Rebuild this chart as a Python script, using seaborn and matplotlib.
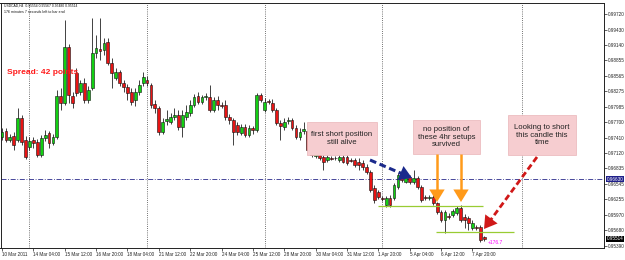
import matplotlib
matplotlib.use("Agg")
import matplotlib.pyplot as plt
from matplotlib.patches import Rectangle
from matplotlib.transforms import blended_transform_factory
import numpy as np
import pandas as pd
import seaborn as sns

# ---------------- data (USDCAD H4) ----------------
opens = [
    0.97420, 0.97532, 0.97364, 0.97439, 0.97364, 0.97775, 0.97364, 0.97233, 0.97364, 0.97327,
    0.97083, 0.97401, 0.97495, 0.97308, 0.97420, 0.98187, 0.98056, 0.99103, 0.98187, 0.98617,
    0.98262, 0.98430, 0.98112, 0.98336, 0.98991, 0.99066, 0.99047, 0.99197, 0.98804, 0.98523,
    0.98636, 0.98430, 0.98355, 0.98262, 0.98112, 0.98262, 0.98430, 0.98486, 0.98392, 0.98037,
    0.97962, 0.97514, 0.97719, 0.97700, 0.97794, 0.97831, 0.97607, 0.97794, 0.97869, 0.98018,
    0.98187, 0.98075, 0.98168, 0.98168, 0.97925, 0.98112, 0.98018, 0.98018, 0.97794, 0.97738,
    0.97644, 0.97495, 0.97607, 0.97457, 0.97588, 0.97551, 0.98205, 0.97925, 0.98093, 0.98056,
    0.97925, 0.97682, 0.97607, 0.97719, 0.97738, 0.97588, 0.97420, 0.97532, 0.97532, 0.97177,
    0.97065, 0.97083, 0.97046, 0.96990, 0.97027, 0.97027, 0.96990, 0.97046, 0.97046, 0.96990,
    0.96990, 0.96953, 0.96934, 0.96859, 0.96766, 0.96466, 0.96392, 0.96279, 0.96148, 0.96279,
    0.96279, 0.96485, 0.96672, 0.96579, 0.96672, 0.96579, 0.96653, 0.96485, 0.96298, 0.96279,
    0.96298, 0.96186, 0.96018, 0.95868, 0.95943, 0.95961, 0.95999, 0.96092, 0.95924, 0.95906,
    0.95718, 0.95737, 0.95737, 0.95554,
]
highs = [
    0.97588, 0.97588, 0.97476, 0.97514, 0.97962, 0.97831, 0.97439, 0.97420, 0.97420, 0.97383,
    0.97457, 0.97551, 0.97532, 0.97476, 0.98299, 0.98336, 0.99608, 0.99159, 0.98262, 0.98710,
    0.98486, 0.98523, 0.98374, 0.99645, 0.99327, 0.99645, 0.99271, 0.99271, 0.98897, 0.98710,
    0.98673, 0.98486, 0.98411, 0.98336, 0.98336, 0.98486, 0.98636, 0.98561, 0.98430, 0.98112,
    0.98000, 0.97775, 0.97925, 0.97869, 0.97962, 0.97925, 0.97925, 0.98018, 0.98112, 0.98224,
    0.98262, 0.98205, 0.98243, 0.98392, 0.98168, 0.98187, 0.98075, 0.98112, 0.97850, 0.97775,
    0.97700, 0.97663, 0.97663, 0.97644, 0.97626, 0.98243, 0.98243, 0.98149, 0.98131, 0.98131,
    0.97962, 0.97738, 0.97775, 0.97794, 0.97775, 0.97644, 0.97588, 0.97700, 0.97588, 0.97233,
    0.97140, 0.97121, 0.97083, 0.97083, 0.97065, 0.97065, 0.97083, 0.97083, 0.97083, 0.97027,
    0.97027, 0.97027, 0.96990, 0.96915, 0.96803, 0.96522, 0.96429, 0.96317, 0.96317, 0.96335,
    0.96560, 0.96747, 0.96728, 0.96709, 0.96709, 0.96803, 0.96691, 0.96522, 0.96335, 0.96335,
    0.96335, 0.96205, 0.96055, 0.96055, 0.95999, 0.96074, 0.96130, 0.96148, 0.95980, 0.95943,
    0.95868, 0.95774, 0.95774, 0.95567,
]
lows = [
    0.97364, 0.97327, 0.97327, 0.97177, 0.97327, 0.97270, 0.97009, 0.97177, 0.97214, 0.97046,
    0.97046, 0.97345, 0.97214, 0.97270, 0.97383, 0.97925, 0.98018, 0.98056, 0.97962, 0.98187,
    0.98205, 0.98056, 0.98056, 0.98299, 0.98897, 0.98860, 0.98953, 0.98766, 0.98336, 0.98486,
    0.98374, 0.98262, 0.98112, 0.98018, 0.98000, 0.98205, 0.98374, 0.98374, 0.97962, 0.97869,
    0.97457, 0.97476, 0.97644, 0.97663, 0.97738, 0.97551, 0.97420, 0.97738, 0.97813, 0.97981,
    0.98037, 0.98037, 0.98112, 0.97888, 0.97888, 0.97925, 0.97962, 0.97738, 0.97663, 0.97270,
    0.97457, 0.97457, 0.97420, 0.97420, 0.97476, 0.97514, 0.98075, 0.97888, 0.98037, 0.97888,
    0.97644, 0.97364, 0.97551, 0.97663, 0.97551, 0.97383, 0.97364, 0.97476, 0.97140, 0.97046,
    0.97027, 0.96990, 0.96803, 0.96953, 0.96990, 0.96990, 0.96953, 0.96934, 0.96896, 0.96953,
    0.96859, 0.96803, 0.96803, 0.96728, 0.96392, 0.96186, 0.96261, 0.96223, 0.96111, 0.96111,
    0.96242, 0.96448, 0.96579, 0.96560, 0.96541, 0.96541, 0.96448, 0.96205, 0.96242, 0.96242,
    0.96148, 0.95980, 0.95831, 0.95625, 0.95887, 0.95924, 0.95961, 0.95831, 0.95718, 0.95681,
    0.95681, 0.95681, 0.95456, 0.95480,
]
closes = [
    0.97514, 0.97364, 0.97420, 0.97270, 0.97775, 0.97327, 0.97046, 0.97345, 0.97308, 0.97083,
    0.97401, 0.97457, 0.97308, 0.97420, 0.98187, 0.98056, 0.99103, 0.98205, 0.98056, 0.98243,
    0.98430, 0.98112, 0.98299, 0.98991, 0.99084, 0.99028, 0.99178, 0.98804, 0.98617, 0.98636,
    0.98430, 0.98355, 0.98243, 0.98075, 0.98262, 0.98392, 0.98542, 0.98430, 0.98018, 0.97962,
    0.97514, 0.97700, 0.97757, 0.97794, 0.97831, 0.97607, 0.97831, 0.97888, 0.98018, 0.98168,
    0.98075, 0.98168, 0.98187, 0.97925, 0.98112, 0.98018, 0.98000, 0.97794, 0.97738, 0.97514,
    0.97514, 0.97607, 0.97457, 0.97588, 0.97551, 0.98205, 0.98112, 0.98075, 0.98075, 0.97925,
    0.97682, 0.97626, 0.97700, 0.97738, 0.97588, 0.97420, 0.97514, 0.97570, 0.97177, 0.97083,
    0.97121, 0.97027, 0.96953, 0.97046, 0.97009, 0.97020, 0.97046, 0.96953, 0.96934, 0.96980,
    0.96896, 0.96896, 0.96859, 0.96766, 0.96429, 0.96242, 0.96298, 0.96261, 0.96279, 0.96148,
    0.96522, 0.96709, 0.96616, 0.96672, 0.96579, 0.96653, 0.96485, 0.96242, 0.96279, 0.96298,
    0.96186, 0.96018, 0.95868, 0.96018, 0.95924, 0.96036, 0.96092, 0.95868, 0.95868, 0.95812,
    0.95812, 0.95718, 0.95494, 0.95514,
]
x_tick_labels = [
    "10 Mar 2011", "14 Mar 04:00", "15 Mar 12:00", "16 Mar 20:00", "18 Mar 04:00",
    "21 Mar 12:00", "22 Mar 20:00", "24 Mar 04:00", "25 Mar 12:00", "28 Mar 20:00",
    "30 Mar 04:00", "31 Mar 12:00", "1 Apr 20:00", "5 Apr 04:00", "6 Apr 12:00", "7 Apr 20:00",
]
y_tick_values = [0.99720, 0.99430, 0.99140, 0.98855, 0.98565, 0.98275, 0.97985, 0.97700,
                 0.97410, 0.97120, 0.96835, 0.96545, 0.96255, 0.95970, 0.95680, 0.95390]
week_separators = [7, 37, 67, 97, 132.7]
dashdot_level = 0.96630
support_levels = [0.96130, 0.95644]
profit_text = "+176.7"

# ---------------- style ----------------
sns.set_theme(style="ticks")
plt.rcParams['font.family'] = ['Liberation Sans', 'DejaVu Sans']

W, H = 625, 260
fig = plt.figure(figsize=(W / 100, H / 100), dpi=100, facecolor="white")
ax = fig.add_axes([0.5 / W, 1 - 248 / H, (604 - 0.5) / W, (248 - 3) / H])
ax.set_facecolor("white")

df = pd.DataFrame({"open": opens, "high": highs, "low": lows, "close": closes})
df["idx"] = np.arange(len(df))
df["bull"] = df["close"] >= df["open"]

# pixel helper for annotation layout
def P(xp, yp):
    return ((xp - 2) / 3.92, 0.99982 - 0.000187 * yp)

ax.set_xlim(P(0.5, 0)[0], P(604, 0)[0])
ax.set_ylim(P(0, 248)[1], P(0, 3)[1])

# week separators
for s in week_separators:
    ax.axvline(s, color="#444444", lw=0.6, ls=(0, (1, 1.6)), zorder=1)

# dash-dot level
ax.axhline(dashdot_level, color="#2a2a8a", lw=0.6, ls=(0, (6, 2, 1, 2)), zorder=1)

# candles
ax.vlines(df["idx"], df["low"], df["high"], color="#222222", lw=0.6, zorder=2)
body_bottom = np.minimum(df["open"], df["close"])
body_h = np.maximum(np.abs(df["close"] - df["open"]), 0.00003)
colors = np.where(df["bull"], "#12d012", "#e81414")
ax.bar(df["idx"], body_h, bottom=body_bottom, width=0.72, color=colors,
       edgecolor="#111111", linewidth=0.4, zorder=3)

# support lines
x0, _ = P(378, 0); x1, _ = P(483, 0)
ax.hlines(support_levels[0], x0, x1, color="#99cc33", lw=0.9, zorder=4)
x0, _ = P(436, 0); x1, _ = P(514, 0)
ax.hlines(support_levels[1], x0, x1, color="#99cc33", lw=0.9, zorder=4)

# annotation boxes
def box(xa, ya, xb, yb, text):
    (dx0, dy0), (dx1, dy1) = P(xa, yb), P(xb, ya)
    ax.add_patch(Rectangle((dx0, dy0), dx1 - dx0, dy1 - dy0, facecolor="#f6cdd0",
                           edgecolor="#e9b5b8", lw=0.5, zorder=5))
    ax.text((dx0 + dx1) / 2, (dy0 + dy1) / 2, text, ha="center", va="center",
            fontsize=5.6, color="#222222", linespacing=1.15, zorder=6)

box(307, 122, 377, 155, "first short position\nstill alive")
box(413, 120, 480, 154, "no position of\nthese 4hr setups\nsurvived")
box(508, 115, 576, 155, "Looking to short\nthis candle this\ntime")

# arrows
def arrow(xs, ys, xe, ye, color, lw, dashed, head):
    s = P(xs, ys); e = P(xe, ye)
    vx, vy = xe - xs, ye - ys
    L = np.hypot(vx, vy)
    hb = P(xe - vx / L * head, ye - vy / L * head)
    ax.plot([s[0], hb[0]], [s[1], hb[1]], color=color, lw=lw,
            ls=(0, (2.2, 1.2)) if dashed else "-", zorder=7, solid_capstyle="butt")
    ax.annotate("", xy=e, xytext=hb,
                arrowprops=dict(arrowstyle="-|>,head_length=0.9,head_width=0.55",
                                color=color, lw=0.01, mutation_scale=10,
                                shrinkA=0, shrinkB=0), zorder=8)

arrow(370, 160, 412, 178, "#1b2a8c", 2.2, True, 9)
arrow(437, 154, 437, 202, "#ff9a1a", 1.8, False, 10)
arrow(461, 154, 461, 202, "#ff9a1a", 1.8, False, 10)
arrow(537, 157, 484, 229, "#d01818", 2.0, True, 11)

# texts
ax.text(P(488, 0)[0], P(0, 242)[1], profit_text, color="#ff00ff", fontsize=3.6,
        ha="left", va="center", zorder=8)
fig.text(4 / W, 1 - 6 / H, "USDCAD,H4  0.95554 0.95567 0.95480 0.95514",
         fontsize=2.4, ha="left", va="center", color="#111111")
fig.text(4 / W, 1 - 12 / H, "176 minutes 7 seconds left to bar end",
         fontsize=2.6, ha="left", va="center", color="#111111")
fig.text(7 / W, 1 - 72 / H, "Spread: 42 points", fontsize=6, fontweight="bold",
         color="#ff1a1a", ha="left", va="center")

# axes / ticks
for sp in ax.spines.values():
    sp.set_color("#222222")
    sp.set_linewidth(0.7)
ax.yaxis.tick_right()
ax.set_yticks(y_tick_values)
ax.set_yticklabels([f"{v:.5f}" for v in y_tick_values])
ax.tick_params(axis="y", labelsize=3.3, length=2, width=0.5, pad=1, colors="#222222")
ax.set_xticks(np.arange(0, 8 * len(x_tick_labels), 8))
ax.set_xticklabels(x_tick_labels)
ax.tick_params(axis="x", labelsize=3.3, length=2, width=0.5, pad=1, colors="#222222")
for lab in ax.get_xticklabels():
    lab.set_horizontalalignment("left")

# right-side price boxes
tr = blended_transform_factory(ax.transAxes, ax.transData)
ax.text(1.004, dashdot_level, f"{dashdot_level:.5f}", transform=tr, fontsize=3.3,
        color="white", va="center", ha="left",
        bbox=dict(boxstyle="square,pad=0.15", fc="#20208a", ec="none"), clip_on=False)
ax.text(1.004, closes[-1], f"{closes[-1]:.5f}", transform=tr, fontsize=3.3,
        color="white", va="center", ha="left",
        bbox=dict(boxstyle="square,pad=0.15", fc="black", ec="none"), clip_on=False)

fig.savefig("out.png", dpi=100, facecolor="white")
